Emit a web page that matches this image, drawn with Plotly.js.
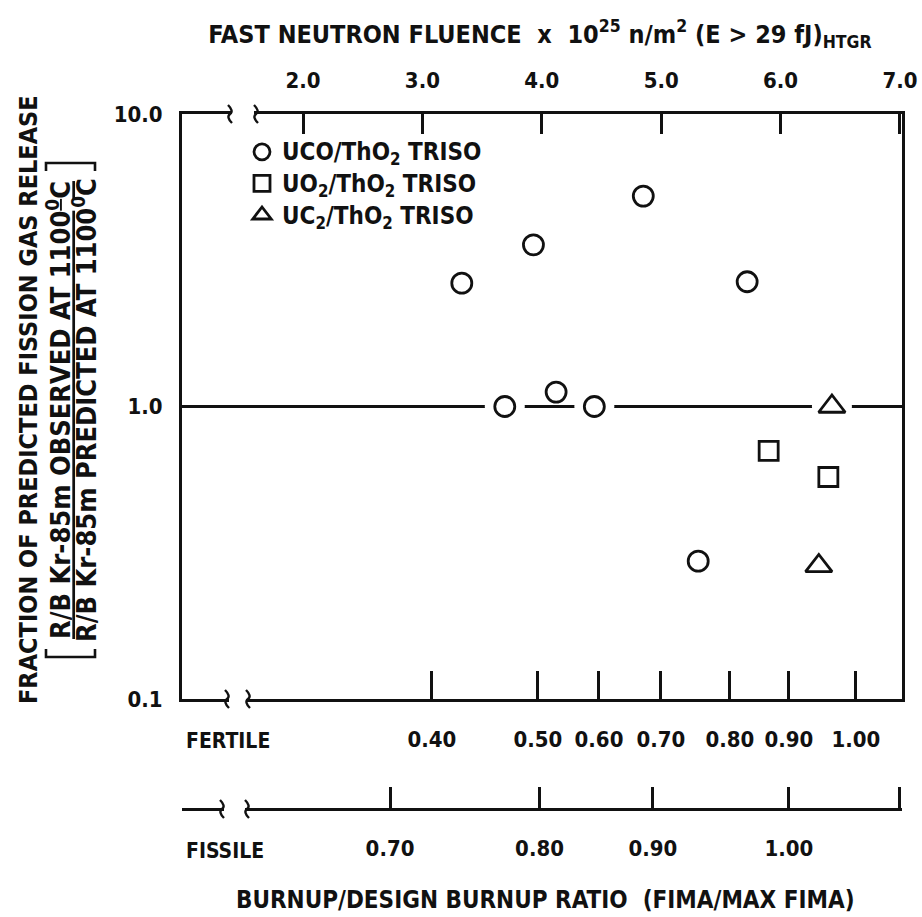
<!DOCTYPE html>
<html><head><meta charset="utf-8">
<script src="https://cdn.plot.ly/plotly-3.0.1.min.js"></script>
<style>html,body{margin:0;padding:0;background:#fff}</style>
</head><body><div id="chart" style="width:922px;height:917px"></div>
<script>
// ---- data (x in fast neutron fluence units, 10^25 n/m^2) ----
const ucoFluence = [3.33, 3.93, 4.85, 5.72, 3.69, 4.12, 4.44, 5.31];
const ucoRatio   = [2.64, 3.57, 5.24, 2.67, 1.0, 1.12, 1.0, 0.296];
const uo2Fluence = [5.90, 6.40];
const uo2Ratio   = [0.705, 0.574];
const uc2Fluence = [6.43, 6.32];
const uc2Ratio   = [1.0, 0.285];

const seriesNames = ['UCO/ThO<sub>2</sub> TRISO', 'UO<sub>2</sub>/ThO<sub>2</sub> TRISO', 'UC<sub>2</sub>/ThO<sub>2</sub> TRISO'];
const topTickVals = [2, 3, 4, 5, 6, 7];
const topTickText = ['2.0', '3.0', '4.0', '5.0', '6.0', '7.0'];
const fertileTickPos  = [3.08, 3.968, 4.479, 4.998, 5.576, 6.07, 6.631];
const fertileTickText = ['0.40', '0.50', '0.60', '0.70', '0.80', '0.90', '1.00'];
const fissileTickPos  = [0.995, 2.729, 3.981, 4.931, 6.07, 6.992];
const fissileTickText = ['', '0.70', '0.80', '0.90', '1.00', ''];
const yTickVals = [0.1, 1, 10];
const yTickText = ['0.1', '1.0', '10.0'];
const xRange = [0.9866, 7.0168];

// ---- layout helpers (pixel -> paper) ----
const W = 922, H = 917, ML = 182, MR = 20, MT = 114, MB = 100;
const PW = W - ML - MR, PH = H - MT - MB;
const px = x => (x - ML) / PW;
const py = y => (H - MB - y) / PH;
const FONT = 'DejaVu Sans Condensed, DejaVu Sans, sans-serif';
const INK = '#111';
const TICK = 22;
const f = size => ({family: FONT, size: size, color: INK, weight: 'bold'});

const onLine = (xs, ys) => xs.filter((_, i) => ys[i] === 1);
const haloX = [...onLine(ucoFluence, ucoRatio), ...onLine(uo2Fluence, uo2Ratio), ...onLine(uc2Fluence, uc2Ratio)];
const haloY = haloX.map(() => 1);
const legendName = s => '<span style="font-size:24px">' + s + '</span>';

const traces = [
  {x: haloX, y: haloY, mode: 'markers', showlegend: false, hoverinfo: 'skip',
   marker: {symbol: 'circle', size: 40, color: '#fff', line: {width: 0}}},
  {x: ucoFluence, y: ucoRatio, mode: 'markers', name: legendName(seriesNames[0]),
   marker: {symbol: 'circle-open', size: 20, color: INK, line: {width: 2.8, color: INK}}},
  {x: uo2Fluence, y: uo2Ratio, mode: 'markers', name: legendName(seriesNames[1]),
   marker: {symbol: 'square-open', size: 19, color: INK, line: {width: 2.8, color: INK}}},
  {x: uc2Fluence, y: uc2Ratio, mode: 'markers', name: legendName(seriesNames[2]),
   marker: {symbol: 'triangle-up-open', size: 23, color: INK, line: {width: 2.8, color: INK}}},
  {x: [xRange[0]], y: [1], xaxis: 'x2', mode: 'markers', marker: {opacity: 0}, showlegend: false, hoverinfo: 'skip'},
  {x: [xRange[0]], y: [1], xaxis: 'x3', mode: 'markers', marker: {opacity: 0}, showlegend: false, hoverinfo: 'skip'}
];

function curl(x, y, h) {
  return 'M' + px(x - 2) + ',' + py(y - h) +
         ' Q' + px(x + 4) + ',' + py(y - h / 3) + ' ' + px(x) + ',' + py(y) +
         ' Q' + px(x - 4) + ',' + py(y + h / 3) + ' ' + px(x + 2) + ',' + py(y + h);
}
function breakShapes(x0, x1, y) {
  return [
    {type: 'rect', xref: 'paper', yref: 'paper', x0: px(x0 + 2), x1: px(x1 - 2), y0: py(y + 5), y1: py(y - 5),
     fillcolor: '#fff', line: {width: 0}, layer: 'above'},
    {type: 'path', xref: 'paper', yref: 'paper', path: curl(x0, y, 9), line: {color: INK, width: 2.4}, layer: 'above'},
    {type: 'path', xref: 'paper', yref: 'paper', path: curl(x1, y, 9), line: {color: INK, width: 2.4}, layer: 'above'}
  ];
}
function bracket(yb, x0, x1, dir) {
  return {type: 'path', xref: 'paper', yref: 'paper', layer: 'above',
    path: 'M' + px(x0) + ',' + py(yb + dir * 8) + ' L' + px(x0) + ',' + py(yb) +
          ' L' + px(x1) + ',' + py(yb) + ' L' + px(x1) + ',' + py(yb + dir * 8),
    line: {color: INK, width: 2.6}};
}

const shapes = [
  {type: 'line', xref: 'paper', yref: 'y', x0: 0, x1: 1, y0: 1, y1: 1, line: {color: INK, width: 3}, layer: 'below'},
  ...breakShapes(230, 256, 114),
  ...breakShapes(227, 248, 699),
  ...breakShapes(222, 247, 809),
  bracket(657, 46, 95, -1),
  bracket(163, 46, 95, 1)
];

const axBase = {showgrid: false, zeroline: false, showline: true, linecolor: INK, linewidth: 3,
  ticks: 'inside', tickcolor: INK, tickwidth: 3, tickfont: f(TICK), fixedrange: true};

const layout = {
  width: W, height: H,
  margin: {l: ML, r: MR, t: MT, b: MB, pad: 0},
  paper_bgcolor: '#fff', plot_bgcolor: 'rgba(0,0,0,0)',
  font: f(TICK),
  title: {text: 'FAST NEUTRON FLUENCE\u00a0\u00a0x\u00a0\u00a010<sup>25</sup> n/m<sup>2</sup> (E &gt; 29 fJ)<sub>HTGR</sub>',
          x: 540 / W, xanchor: 'center', y: 1 - 34 / H, yanchor: 'middle', font: f(25)},
  showlegend: true,
  legend: {x: px(242), y: py(131), xanchor: 'left', yanchor: 'top', bgcolor: 'rgba(0,0,0,0)', borderwidth: 0,
           font: f(22), traceorder: 'normal'},
  xaxis: Object.assign({}, axBase, {range: xRange, tickmode: 'array', tickvals: fertileTickPos, ticktext: fertileTickText,
           ticklen: 28, ticklabelstandoff: 19, anchor: 'y', side: 'bottom'}),
  xaxis2: Object.assign({}, axBase, {range: xRange, overlaying: 'x', anchor: 'y', side: 'top', tickmode: 'array',
           tickvals: topTickVals, ticktext: topTickText, ticklen: 20, ticklabelstandoff: 14}),
  xaxis3: Object.assign({}, axBase, {range: xRange, overlaying: 'x', anchor: 'free', position: py(809), side: 'bottom',
           tickmode: 'array', tickvals: fissileTickPos, ticktext: fissileTickText, ticklen: 21, ticklabelstandoff: 19}),
  yaxis: Object.assign({}, axBase, {type: 'log', range: [-1, 1], domain: [py(699), 1], mirror: true, tickmode: 'array',
           tickvals: yTickVals, ticktext: yTickText, ticklen: 14, ticklabelstandoff: 12}),
  shapes: shapes,
  annotations: [
    {text: 'FERTILE', xref: 'paper', yref: 'paper', x: px(184), y: py(741), xanchor: 'left', yanchor: 'middle',
     showarrow: false, font: f(21)},
    {text: 'FISSILE', xref: 'paper', yref: 'paper', x: px(184), y: py(851), xanchor: 'left', yanchor: 'middle',
     showarrow: false, font: f(21)},
    {text: 'BURNUP/DESIGN BURNUP RATIO\u00a0\u00a0(FIMA/MAX FIMA)', xref: 'paper', yref: 'paper', x: px(545), y: py(900),
     xanchor: 'center', yanchor: 'middle', showarrow: false, font: f(24)},
    {text: 'FRACTION OF PREDICTED FISSION GAS RELEASE', xref: 'paper', yref: 'paper', x: px(28), y: py(400),
     xanchor: 'center', yanchor: 'middle', textangle: -90, showarrow: false, font: f(25)},
    {text: '<u>R/B Kr-85m OBSERVED AT 1100<sup>0</sup>C</u>', xref: 'paper', yref: 'paper', x: px(58), y: py(410),
     xanchor: 'center', yanchor: 'middle', textangle: -90, showarrow: false, font: f(27)},
    {text: 'R/B Kr-85m PREDICTED AT 1100<sup>0</sup>C', xref: 'paper', yref: 'paper', x: px(84), y: py(410),
     xanchor: 'center', yanchor: 'middle', textangle: -90, showarrow: false, font: f(27)}
  ]
};

Plotly.newPlot('chart', traces, layout, {staticPlot: true, displayModeBar: false});
</script>
</body></html>
